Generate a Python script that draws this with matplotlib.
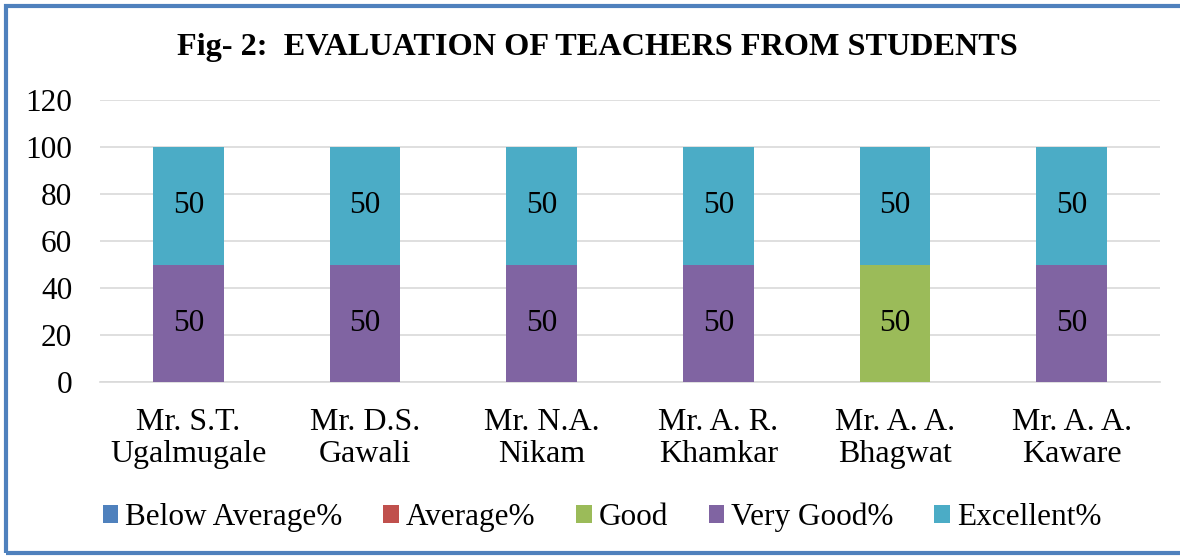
import numpy as np
import matplotlib.pyplot as plt
from matplotlib.patches import Rectangle

teachers = ["Mr. S.T.\nUgalmugale", "Mr. D.S.\nGawali", "Mr. N.A.\nNikam",
            "Mr. A. R.\nKhamkar", "Mr. A. A.\nBhagwat", "Mr. A. A.\nKaware"]
series_names = ["Below Average%", "Average%", "Good", "Very Good%", "Excellent%"]
below_avg = [0, 0, 0, 0, 0, 0]
average = [0, 0, 0, 0, 0, 0]
good = [0, 0, 0, 0, 50, 0]
very_good = [50, 50, 50, 50, 0, 50]
excellent = [50, 50, 50, 50, 50, 50]
colors = ["#4f81bd", "#c0504d", "#9bbb59", "#8064a2", "#4bacc6"]

plt.rcParams['font.family'] = ['Liberation Serif', 'DejaVu Serif']
fs = 22.5

fig = plt.figure(figsize=(11.8, 5.56), dpi=100)
ax = fig.add_axes([100 / 1180, 1 - 382 / 556, 1060 / 1180, 282 / 556])

x = np.arange(len(teachers))
bottom = np.zeros(len(teachers))
for name, vals, c in zip(series_names, [below_avg, average, good, very_good, excellent], colors):
    vals = np.array(vals, dtype=float)
    ax.bar(x, vals, bottom=bottom, width=0.4, color=c, label=name, zorder=3)
    for xi, v, b in zip(x, vals, bottom):
        if v > 0:
            ax.text(xi, b + v / 2, f"{v:g}", ha="center", va="center", fontsize=fs, zorder=4)
    bottom += vals

ax.set_xlim(-0.5, len(teachers) - 0.5)
ax.set_ylim(0, 120)
ax.set_yticks(range(0, 121, 20))
ax.yaxis.grid(True, color="#d9d9d9", linewidth=1.2, zorder=0)
ax.set_xticks(x)
ax.set_xticklabels(teachers, fontsize=23, linespacing=1.12)
ax.tick_params(axis="y", length=0, labelsize=fs, pad=20)
ax.tick_params(axis="x", length=0, pad=19)
for s in ["top", "right", "left"]:
    ax.spines[s].set_visible(False)
ax.spines["bottom"].set_color("#d9d9d9")
ax.spines["bottom"].set_linewidth(1.2)

fig.text(597 / 1180, 1 - 47 / 556, "Fig- 2:  EVALUATION OF TEACHERS FROM STUDENTS",
         ha="center", va="center", fontsize=23.2, fontweight="bold")

fig.legend(loc="center", bbox_to_anchor=(602 / 1180, 1 - 517 / 556), ncol=5,
           frameon=False, fontsize=fs, handlelength=0.5, handleheight=0.5,
           handletextpad=0.22, columnspacing=1.3)

fig.patches.append(Rectangle((6 / 1180, 3 / 556), 1.2, 1 - 9 / 556, transform=fig.transFigure,
                             fill=False, edgecolor="#4f81bd", linewidth=3))

fig.savefig("out.png", dpi=100)
